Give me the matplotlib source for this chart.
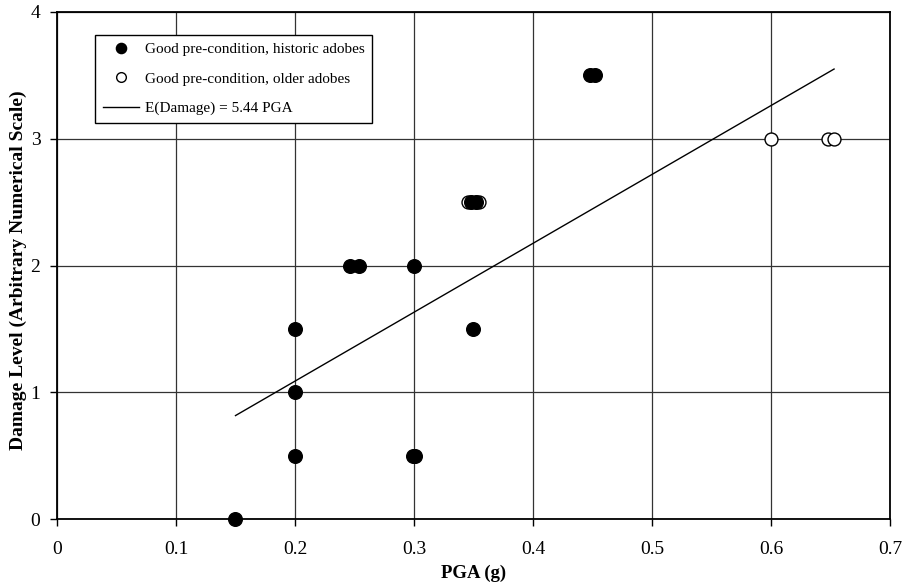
import matplotlib
matplotlib.use("Agg")
import matplotlib.pyplot as plt

# Data
hist_pga = [0.15, 0.20, 0.20, 0.20, 0.246, 0.254, 0.30, 0.299, 0.301, 0.35, 0.348, 0.352, 0.448, 0.452]
hist_dmg = [0.0, 0.5, 1.0, 1.5, 2.0, 2.0, 2.0, 0.5, 0.5, 1.5, 2.5, 2.5, 3.5, 3.5]
old_pga = [0.345, 0.355, 0.60, 0.648, 0.653]
old_dmg = [2.5, 2.5, 3.0, 3.0, 3.0]
fit_pga = [0.15, 0.653]
fit_dmg = [0.816, 3.55]

xticks = [0, 0.1, 0.2, 0.3, 0.4, 0.5, 0.6, 0.7]
xticklabels = ["0", "0.1", "0.2", "0.3", "0.4", "0.5", "0.6", "0.7"]
yticks = [0, 1, 2, 3, 4]

plt.rcParams['font.family'] = ['Liberation Serif', 'DejaVu Serif']

fig = plt.figure(figsize=(9.03, 5.86), dpi=100)
ax = fig.add_axes([57/903, 1 - 519/586, (890-57)/903, (519-12)/586])

ax.plot(old_pga, old_dmg, 'o', mfc='white', mec='black', mew=1.0, ms=9.3,
        label='Good pre-condition, older adobes', zorder=3, clip_on=False)
ax.plot(hist_pga, hist_dmg, 'o', mfc='black', mec='black', ms=9.8,
        label='Good pre-condition, historic adobes', zorder=4, clip_on=False)
ax.plot(fit_pga, fit_dmg, '-', color='black', lw=1.0,
        label='E(Damage) = 5.44 PGA', zorder=2)

ax.set_xlim(0, 0.7)
ax.set_ylim(0, 4)
ax.set_xticks(xticks)
ax.set_xticklabels(xticklabels)
ax.set_yticks(yticks)
ax.grid(True, color='#333333', lw=0.9)
ax.set_axisbelow(True)
for s in ax.spines.values():
    s.set_linewidth(1.3)
    s.set_color('black')
ax.tick_params(direction='out', length=5, width=1.0, labelsize=14)
ax.tick_params(axis='x', pad=10.5)
ax.tick_params(axis='y', pad=7)

ax.set_xlabel('PGA (g)', fontsize=13.5, fontweight='bold', labelpad=5)
ax.set_ylabel('Damage Level (Arbitrary Numerical Scale)', fontsize=14,
              fontweight='bold')
ax.yaxis.set_label_coords(-0.036, 0.49)

handles, labels = ax.get_legend_handles_labels()
order = [1, 0, 2]
leg = ax.legend([handles[i] for i in order], [labels[i] for i in order],
                loc='upper left', bbox_to_anchor=((95-57)/833, (519-35)/507),
                borderaxespad=0, fontsize=11,
                markerscale=0.75, frameon=True, fancybox=False, edgecolor='black',
                framealpha=1, borderpad=0.5, labelspacing=1.03, handlelength=2.4,
                handletextpad=0.35)
leg.get_frame().set_linewidth(1.0)

fig.savefig('out.png', dpi=100)
